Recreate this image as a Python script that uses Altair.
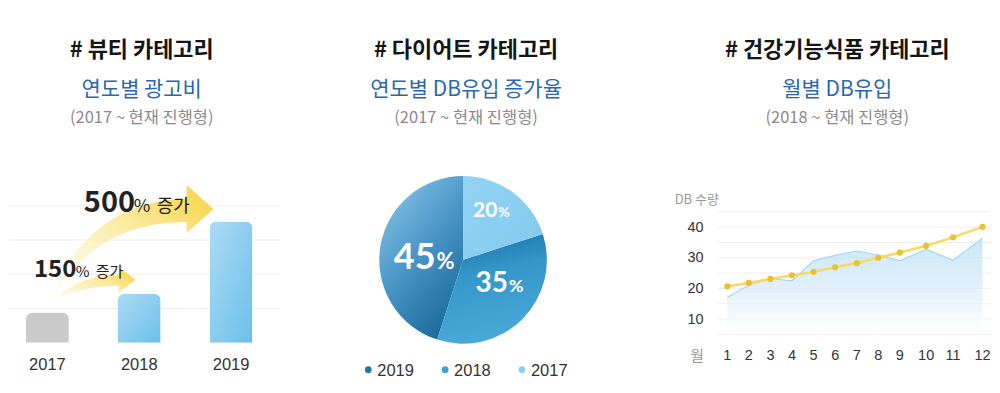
import math
import altair as alt
import pandas as pd

# ---------------- data ----------------
# panel 1: yearly ad spend (relative units)
ad_years = ["2017", "2018", "2019"]
ad_values = [0.88, 1.43, 3.54]
ad_grid = [1, 2, 3, 4]

# panel 2: yearly DB inflow share (%)
pie_years = [2017, 2018, 2019]
pie_shares = [20, 35, 45]
legend_years = ["2019", "2018", "2017"]

# panel 3: monthly DB volume
months = list(range(1, 13))
db_area = [17.0, 21.1, 23.2, 22.5, 29.0, 30.8, 32.2, 30.9, 29.0, 32.8, 29.2, 36.4]
db_line = [20.7, 21.8, 23.1, 24.3, 25.4, 26.9, 28.3, 30.0, 31.7, 33.9, 36.7, 40.1]
db_ticks = [10, 20, 30, 40]
db_grid = [5, 10, 15, 20, 25, 30, 35, 40, 45]

# ---------------- style ----------------
W1, W2, W3, H = 330, 320, 334, 377
FONT_KR = "Noto Sans CJK KR"
FONT_NUM = "Liberation Sans"
GS = alt.GradientStop


def one(txt):
    return pd.DataFrame({"t": [txt]})


def heading_layers(cx, title, sub, note):
    rows = [
        (title, 42, 22, "bold", "#151515"),
        (sub, 81.5, 21, "normal", "#2b67b1"),
        (note, 110, 16.5, "normal", "#8a8a8a"),
    ]
    out = []
    for txt, y, fs, fw, col in rows:
        out.append(
            alt.Chart(one(txt))
            .mark_text(font=FONT_KR, fontSize=fs, fontWeight=fw, color=col,
                       align="center", baseline="middle")
            .encode(x=alt.value(cx), y=alt.value(y), text="t:N")
        )
    return out


def label(txt, x, y, size, weight, color, font=FONT_KR, align="left", baseline="alphabetic"):
    return (
        alt.Chart(one(txt))
        .mark_text(font=font, fontSize=size, fontWeight=weight, color=color,
                   align=align, baseline=baseline)
        .encode(x=alt.value(x), y=alt.value(y), text="t:N")
    )


# ---------------- panel 1 ----------------
ad_df = pd.DataFrame({"year": ad_years, "value": ad_values})
x1 = alt.Scale(type="point", domain=ad_years, range=[38.5, 222.5], padding=0)
y1 = alt.Scale(domain=[0, 4], range=[335, 197.8], nice=False, zero=True)

grid1 = (
    alt.Chart(pd.DataFrame({"g": ad_grid}))
    .mark_rule(color="#efefef", strokeWidth=1)
    .encode(x=alt.value(0), x2=alt.value(272), y=alt.Y("g:Q", scale=y1, axis=None))
)

arrow_grad = alt.Gradient(
    gradient="linear",
    stops=[GS(color="rgba(253,246,210,0)", offset=0),
           GS(color="rgba(251,238,175,0.75)", offset=0.4),
           GS(color="#f9dd6a", offset=0.8),
           GS(color="#f8d443", offset=1)],
    x1=0, y1=1, x2=1, y2=0,
)
big_arrow = ("M 42 297 C 56 240 105 191 178 191 L 178 177 L 205 201 L 178 225 "
             "L 178 214 C 112 214 66 245 42 297 Z")
small_arrow = ("M 42 295 C 55 280 80 267 110 267 L 110 259 L 127 272 L 110 285 "
               "L 110 278 C 84 278 60 284 42 295 Z")


def arrow(path):
    return (
        alt.Chart(one("a"))
        .mark_point(shape=path, size=4, filled=True, fill=arrow_grad,
                    strokeWidth=0, opacity=1)
        .encode(x=alt.value(0), y=alt.value(0))
    )


bar_grad = alt.Gradient(
    gradient="linear",
    stops=[GS(color="#acdbf3", offset=0), GS(color="#6bbfea", offset=1)],
    x1=0, y1=0, x2=1, y2=1,
)
bars_blue = (
    alt.Chart(ad_df).transform_filter(alt.datum.year != "2017")
    .mark_bar(size=43, fill=bar_grad, cornerRadiusTopLeft=7, cornerRadiusTopRight=7)
    .encode(x=alt.X("year:N", scale=x1, axis=None), y=alt.Y("value:Q", scale=y1, axis=None))
)
bars_gray = (
    alt.Chart(ad_df).transform_filter(alt.datum.year == "2017")
    .mark_bar(size=43, fill="#cacaca", cornerRadiusTopLeft=7, cornerRadiusTopRight=7)
    .encode(x=alt.X("year:N", scale=x1, axis=None), y=alt.Y("value:Q", scale=y1, axis=None))
)
year_labels = (
    alt.Chart(ad_df)
    .mark_text(font=FONT_NUM, fontSize=16.5, color="#333333", baseline="middle")
    .encode(x=alt.X("year:N", scale=x1, axis=None), y=alt.value(357), text="year:N")
)

p1_layers = [grid1, arrow(big_arrow), arrow(small_arrow), bars_gray, bars_blue, year_labels,
             label("500", 75, 204, 29, "bold", "#222222"),
             label("%", 125, 204, 18, "normal", "#222222"),
             label("증가", 148, 204, 18, "normal", "#222222"),
             label("150", 25, 269, 24, "bold", "#222222"),
             label("%", 67, 269, 15, "normal", "#222222"),
             label("증가", 87, 269, 15, "normal", "#222222")]
p1_layers += heading_layers(133, "# 뷰티 카테고리", "연도별 광고비", "(2017 ~ 현재 진행형)")
panel1 = alt.layer(*p1_layers).properties(width=W1, height=H)

# ---------------- panel 2 ----------------
pie_df = pd.DataFrame({"year": pie_years, "share": pie_shares})
theta_scale = alt.Scale(domain=[0, 100], range=[0, 2 * math.pi])
CX, CY, R = 125, 252, 84

base2 = (
    alt.Chart(pie_df)
    .transform_stack(stack="share", groupby=[], as_=["t0", "t1"],
                     sort=[alt.SortField("year", order="ascending")])
    .transform_calculate(tm="(datum.t0 + datum.t1) / 2", num="toString(datum.share)")
)


def slice_arc(year, fill):
    return (
        base2.transform_filter(alt.datum.year == year)
        .mark_arc(fill=fill, radius=R, strokeWidth=0)
        .encode(theta=alt.Theta("t0:Q", scale=theta_scale, stack=False),
                theta2="t1:Q", x=alt.value(CX), y=alt.value(CY))
    )


def slice_text(year, rad, dx, dy, big, small):
    num = (
        base2.transform_filter(alt.datum.year == year)
        .mark_text(radius=rad, dx=dx, dy=dy, font="Lato", fontWeight="bold",
                   fontSize=big, color="white", align="right", baseline="alphabetic")
        .encode(theta=alt.Theta("tm:Q", scale=theta_scale, stack=False),
                x=alt.value(CX), y=alt.value(CY), text="num:N")
    )
    pct = (
        base2.transform_filter(alt.datum.year == year)
        .mark_text(radius=rad, dx=dx + 1, dy=dy, font="Lato", fontWeight="bold",
                   fontSize=small, color="white", align="left", baseline="alphabetic")
        .encode(theta=alt.Theta("tm:Q", scale=theta_scale, stack=False),
                x=alt.value(CX), y=alt.value(CY), text=alt.value("%"))
    )
    return [num, pct]


g2019 = alt.Gradient(gradient="linear",
                     stops=[GS(color="#86c3e6", offset=0), GS(color="#4592c4", offset=0.5),
                            GS(color="#176799", offset=1)],
                     x1=0.2, y1=0, x2=0.8, y2=1)
g2018 = alt.Gradient(gradient="linear",
                     stops=[GS(color="#1b73a7", offset=0), GS(color="#3496c9", offset=0.35),
                            GS(color="#4aaad8", offset=1)],
                     x1=0.3, y1=0, x2=0.5, y2=1)
g2017 = alt.Gradient(gradient="linear",
                     stops=[GS(color="#93d3f3", offset=0), GS(color="#82c9ee", offset=1)],
                     x1=0, y1=0, x2=1, y2=1)

leg_df = pd.DataFrame({"year": legend_years})
leg_x = alt.Scale(type="point", domain=legend_years, range=[30, 184], padding=0)
leg_dots = (
    alt.Chart(leg_df).mark_circle(size=45, opacity=1)
    .encode(x=alt.X("year:N", scale=leg_x, axis=None), y=alt.value(362),
            color=alt.Color("year:N", legend=None,
                            scale=alt.Scale(domain=legend_years,
                                            range=["#1f78aa", "#3ea3d4", "#8fd0f1"])))
)
leg_text = (
    alt.Chart(leg_df)
    .mark_text(align="left", dx=9, font=FONT_NUM, fontSize=16.5, color="#333333",
               baseline="middle")
    .encode(x=alt.X("year:N", scale=leg_x, axis=None), y=alt.value(363), text="year:N")
)

p2_layers = [slice_arc(2019, g2019), slice_arc(2018, g2018), slice_arc(2017, g2017)]
p2_layers += slice_text(2017, 55, 2, 1.5, 21, 14)
p2_layers += slice_text(2018, 55, 6, -7, 28, 18)
p2_layers += slice_text(2019, 29, 1, 13.5, 36, 22)
p2_layers += [leg_dots, leg_text]
p2_layers += heading_layers(128, "# 다이어트 카테고리", "연도별 DB유입 증가율", "(2017 ~ 현재 진행형)")
panel2 = alt.layer(*p2_layers).properties(width=W2, height=H)

# ---------------- panel 3 ----------------
db_df = pd.DataFrame({"m": months, "a": db_area, "l": db_line})
x3 = alt.Scale(domain=[1, 9, 10, 11, 12], range=[69.7, 242.7, 269, 296, 325.5],
               nice=False, zero=False)
y3 = alt.Scale(domain=[5, 45], range=[326.65, 203.85], nice=False, zero=False)

grid3 = (
    alt.Chart(pd.DataFrame({"g": db_grid}))
    .mark_rule(color="#eeeeee", strokeWidth=1)
    .encode(x=alt.value(60), x2=alt.value(334), y=alt.Y("g:Q", scale=y3, axis=None))
)
area_grad = alt.Gradient(
    gradient="linear",
    stops=[GS(color="#b6dcf4", offset=0), GS(color="#d3eaf8", offset=0.5),
           GS(color="rgba(255,255,255,0.9)", offset=1)],
    x1=0, y1=0, x2=0, y2=1,
)
area = (
    alt.Chart(db_df)
    .mark_area(fill=area_grad, line={"color": "#a8d6f0", "strokeWidth": 1.2})
    .encode(x=alt.X("m:Q", scale=x3, axis=None), y=alt.Y("a:Q", scale=y3, axis=None),
            y2=alt.datum(5))
)
line = (
    alt.Chart(db_df).mark_line(color="#f8da62", strokeWidth=2.5)
    .encode(x=alt.X("m:Q", scale=x3, axis=None), y=alt.Y("l:Q", scale=y3, axis=None))
)
pts = (
    alt.Chart(db_df).mark_circle(size=38, color="#e8c12c", opacity=1)
    .encode(x=alt.X("m:Q", scale=x3, axis=None), y=alt.Y("l:Q", scale=y3, axis=None))
)
ytick = (
    alt.Chart(pd.DataFrame({"v": db_ticks}))
    .mark_text(align="right", baseline="middle", dy=0.5, font=FONT_NUM, fontSize=14.5,
               color="#333333")
    .encode(x=alt.value(46), y=alt.Y("v:Q", scale=y3, axis=None), text="v:N")
)
xtick = (
    alt.Chart(db_df)
    .mark_text(align="center", baseline="middle", font=FONT_NUM, fontSize=14.5, color="#333333")
    .encode(x=alt.X("m:Q", scale=x3, axis=None), y=alt.value(348), text="m:N")
)

p3_layers = [grid3, area, line, pts, ytick, xtick,
             label("DB 수량", 17, 192, 13, "normal", "#9a9a9a", baseline="middle"),
             label("월", 39.5, 348, 15, "normal", "#999999", align="center", baseline="middle")]
p3_layers += heading_layers(180, "# 건강기능식품 카테고리", "월별 DB유입", "(2018 ~ 현재 진행형)")
panel3 = alt.layer(*p3_layers).properties(width=W3, height=H)

chart = (
    alt.hconcat(panel1, panel2, panel3, spacing=0)
    .properties(padding=0, background="white")
    .configure_view(stroke=None)
)

chart.save("out.html", embed_options={"renderer": "svg", "actions": False})
